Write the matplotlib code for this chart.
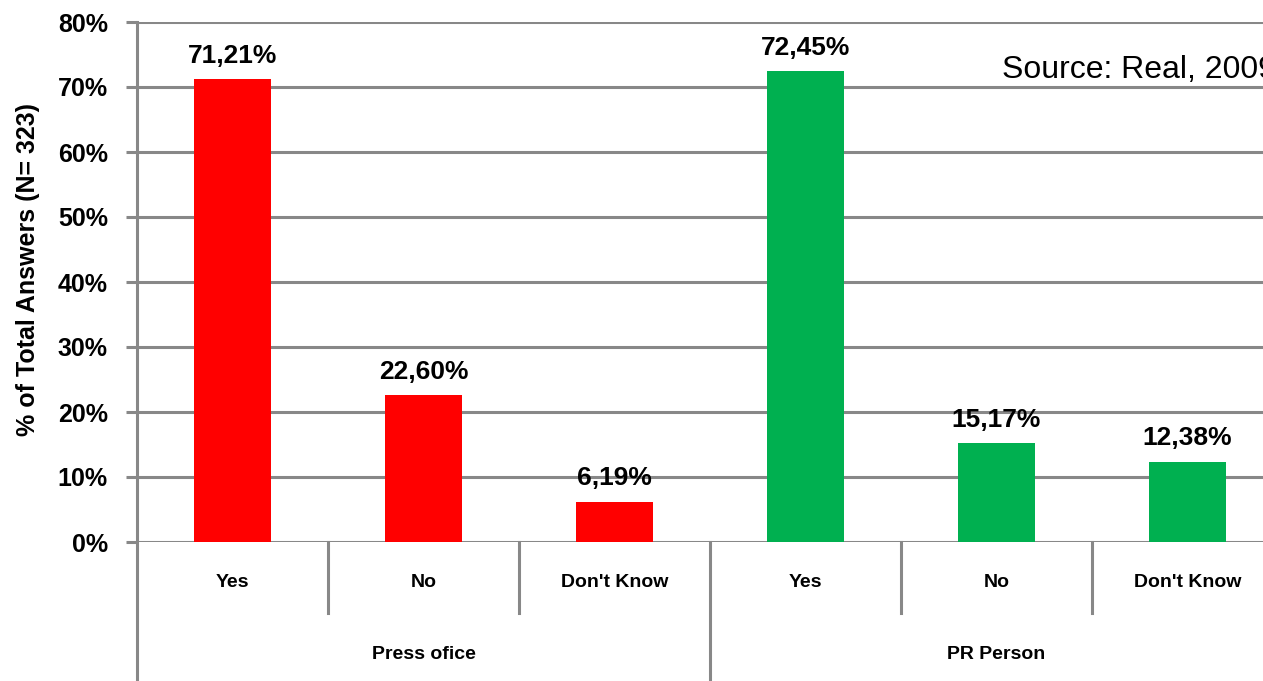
import matplotlib
matplotlib.use("Agg")
from matplotlib import pyplot as plt
import matplotlib.transforms as mtransforms

# data
groups = ["Press ofice", "PR Person"]
answers = ["Yes", "No", "Don't Know"]
press_office = [71.21, 22.60, 6.19]
pr_person = [72.45, 15.17, 12.38]
yticks = [0, 10, 20, 30, 40, 50, 60, 70, 80]

plt.rcParams['font.family'] = ['Liberation Sans', 'DejaVu Sans']

fig = plt.figure(figsize=(12.63, 6.81), dpi=100)
# axes run past the right edge like in the original (clipped)
ax = fig.add_axes([137 / 1263, 139 / 681, 1146 / 1263, 520 / 681])

grey = '#888888'
values = press_office + pr_person
colors = ['#FF0000'] * 3 + ['#00B050'] * 3
xpos = [i + 0.5 for i in range(len(values))]

for y in yticks:
    ax.axhline(y, color=grey, lw=2.2, zorder=1)
ax.bar(xpos, values, width=0.4, color=colors, zorder=2)

for x, v in zip(xpos, values):
    ax.text(x, v + 3.6, ('%.2f%%' % v).replace('.', ','), ha='center', va='center',
            fontsize=19, fontweight='bold')

ax.set_xlim(0, 6)
ax.set_ylim(0, 80)
ax.set_yticks(yticks)
ax.set_yticklabels(['%d%%' % y for y in yticks], fontsize=18, fontweight='bold')
ax.tick_params(axis='y', length=8, width=2.2, color=grey, pad=13)
ax.set_xticks([])
for s in ['top', 'right', 'bottom', 'left']:
    ax.spines[s].set_visible(False)

# multi-level category axis
tr = mtransforms.blended_transform_factory(ax.transData, ax.transAxes)
labels = answers * 2
for i, lab in enumerate(labels):
    ax.text(i + 0.5, -0.077, lab, transform=tr, ha='center', va='center',
            fontsize=14, fontweight='bold')
for g, name in enumerate(groups):
    ax.text(g * 3 + 1.5, -0.217, name, transform=tr, ha='center', va='center',
            fontsize=14, fontweight='bold')
for i in range(7):
    bottom = -0.27 if i % 3 == 0 else -0.137
    top = 1.0 if i == 0 else 0.0
    ax.plot([i, i], [bottom, top], transform=tr, color=grey, lw=2.2,
            clip_on=False, zorder=1)

fig.text(28 / 1263, 1 - 270 / 681, '% of Total Answers (N= 323)', rotation=90,
         ha='center', va='center', fontsize=18, fontweight='bold')
# source note runs off the right edge in the original too
fig.text(1002 / 1263, 1 - 70 / 681, 'Source: Real, 2009', ha='left', va='center',
         fontsize=23)

fig.savefig('out.png', dpi=100)
